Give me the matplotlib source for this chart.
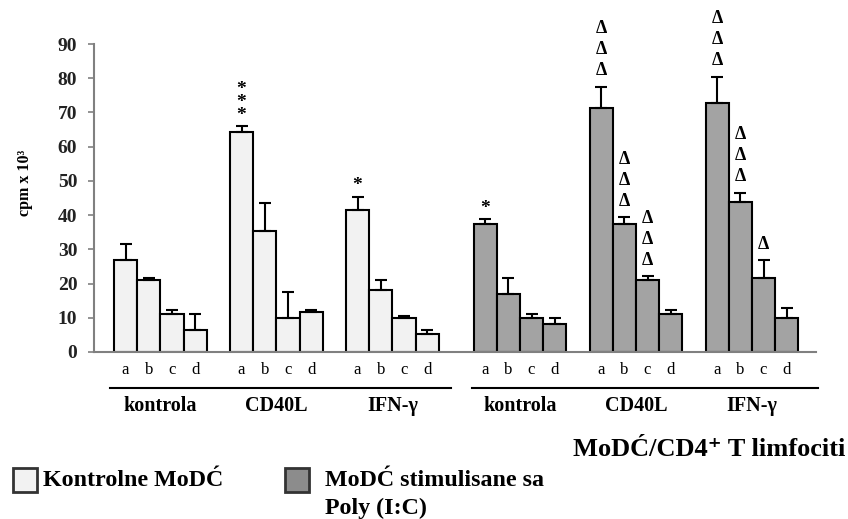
import numpy as np
import matplotlib
matplotlib.use("Agg")
import matplotlib.pyplot as plt
from matplotlib.patches import Rectangle

SERIF = ["Liberation Serif", "DejaVu Serif"]
plt.rcParams["font.family"] = SERIF

# cpm x 10^3, samples a-d within each treatment
treatments = ["kontrola", "CD40L", "IFN-\u03b3"]
samples = ["a", "b", "c", "d"]

ctrl_mean = [[27.0, 21.0, 11.1, 6.4],
             [64.2, 35.5, 10.0, 11.6],
             [41.4, 18.1, 10.0, 5.2]]
ctrl_err = [[4.6, 0.5, 1.1, 4.7],
            [1.7, 8.1, 7.6, 0.6],
            [4.0, 2.9, 0.5, 1.2]]
poly_mean = [[37.3, 16.9, 9.8, 8.2],
             [71.2, 37.3, 21.0, 11.1],
             [72.9, 43.8, 21.6, 9.8]]
poly_err = [[1.6, 4.7, 1.3, 1.6],
            [6.3, 2.1, 1.1, 1.1],
            [7.5, 2.7, 5.2, 3.1]]

# significance marks (treatment index, sample index, symbol, count)
ctrl_marks = [(1, 0, "*", 3), (2, 0, "*", 1)]
poly_marks = [(0, 0, "*", 1), (1, 0, "\u0394", 3), (1, 1, "\u0394", 3),
              (1, 2, "\u0394", 3), (2, 0, "\u0394", 3), (2, 1, "\u0394", 3),
              (2, 2, "\u0394", 1)]

CTRL_COLOR = "#F2F2F2"
POLY_COLOR = "#A3A3A3"

fig = plt.figure(figsize=(8.48, 5.19), dpi=100)
ax = fig.add_axes([0.1108, 0.3218, 0.8514, 0.5934])

ctrl_starts = [0, 5, 10]
poly_starts = [15.5, 20.5, 25.5]


def draw_half(starts, means, errs, color, marks):
    centers = []
    for g, start in enumerate(starts):
        x = start + np.arange(4) + 0.5
        m = np.array(means[g])
        e = np.array(errs[g])
        ax.bar(x, m, width=1.0, color=color, edgecolor="black", linewidth=1.5, zorder=2)
        ax.errorbar(x, m, yerr=[np.zeros(4), e], fmt="none", ecolor="black",
                    elinewidth=1.5, capsize=4, capthick=1.5, zorder=3)
        for xi, s in zip(x, samples):
            ax.annotate(s, xy=(xi, 0), xytext=(0, -13), textcoords="offset points",
                        ha="center", va="center", fontsize=12, annotation_clip=False)
        centers.append(start + 2)
    # stacked marks are one multi-line text each, so they never collide
    for g, i, sym, n in marks:
        x = starts[g] + i + 0.5
        top = means[g][i] + errs[g][i]
        if sym == "*":
            kw = dict(fontsize=14, linespacing=0.69, xytext=(0, 1.7))
        else:
            kw = dict(fontsize=13, linespacing=1.30, xytext=(0, 5.5))
        ax.annotate("\n".join([sym] * n), xy=(x, top), textcoords="offset points",
                    ha="center", va="bottom", multialignment="center",
                    fontweight="bold", annotation_clip=False, **kw)
    return centers


c1 = draw_half(ctrl_starts, ctrl_mean, ctrl_err, CTRL_COLOR, ctrl_marks)
c2 = draw_half(poly_starts, poly_mean, poly_err, POLY_COLOR, poly_marks)

ax.set_xlim(-0.862, 30.26)
ax.set_ylim(0, 90)
ax.set_yticks(np.arange(0, 91, 10))
ax.tick_params(axis="y", length=4, width=1.2, color="#808080", labelsize=14, pad=8)
for lbl in ax.get_yticklabels():
    lbl.set_fontweight("bold")
    lbl.set_color("#222222")
ax.set_xticks([])
for side in ("top", "right"):
    ax.spines[side].set_visible(False)
for side in ("left", "bottom"):
    ax.spines[side].set_color("#808080")
    ax.spines[side].set_linewidth(1.5)

ax.set_ylabel("cpm x 10\u00b3", fontsize=11.5, fontweight="bold")
ax.yaxis.set_label_coords(-0.0845, 0.549)

# brackets and treatment names under the sample letters
trans = ax.get_xaxis_transform()
for x0, x1 in [(-0.17, 14.53), (15.44, 30.36)]:
    ax.plot([x0, x1], [-0.117, -0.117], color="black", lw=1.5,
            transform=trans, clip_on=False)
for cx, name in zip(c1 + c2, treatments * 2):
    ax.annotate(name, xy=(cx, 0), xytext=(0, -39), textcoords="offset points",
                ha="center", va="center", fontsize=14.5, fontweight="bold",
                annotation_clip=False)

fig.text(845 / 848, 1 - 450 / 519, "MoD\u0106/CD4\u207a T limfociti", ha="right",
         va="center", fontsize=19, fontweight="bold")

# legend drawn by hand
W, H = 848, 519
for (bx, fc) in [(13, CTRL_COLOR), (285, "#8C8C8C")]:
    fig.patches.append(Rectangle((bx / W, 1 - 492 / H), 24 / W, 24 / H,
                                 transform=fig.transFigure, facecolor=fc,
                                 edgecolor="#333333", linewidth=2))
fig.text(43 / W, 1 - 480 / H, "Kontrolne MoD\u0106", ha="left", va="center",
         fontsize=17.3, fontweight="bold")
fig.text(325 / W, 1 - 480 / H, "MoD\u0106 stimulisane sa", ha="left", va="center",
         fontsize=17.3, fontweight="bold")
fig.text(325 / W, 1 - 508 / H, "Poly (I:C)", ha="left", va="center",
         fontsize=17.3, fontweight="bold")

fig.savefig("out.png", dpi=100)
